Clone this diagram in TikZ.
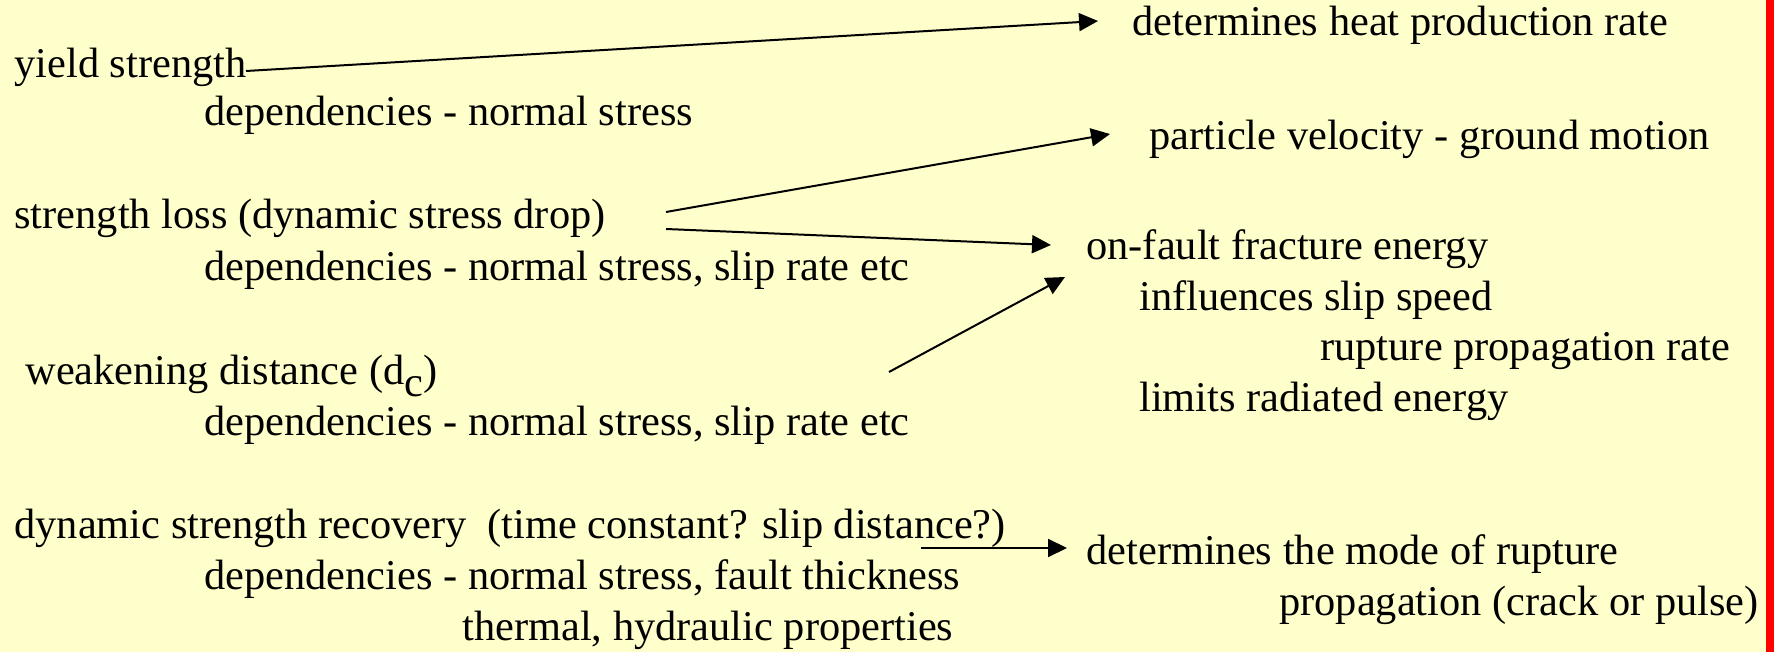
\documentclass[tikz,border=0pt]{standalone}
\usepackage{fontspec}
\setmainfont{Liberation Serif}
\usetikzlibrary{arrows.meta}
\definecolor{bgyellow}{HTML}{FFFFCC}
\begin{document}
\begin{tikzpicture}[x=0.5pt,y=-0.5pt,
  lbl/.style={anchor=base west,inner sep=0pt,font=\fontsize{21.2}{25}\selectfont},
  conn/.style={line width=1pt,-{Triangle[length=9.5pt,width=9pt]}}]
\useasboundingbox (0,0) rectangle (1781,652);
\fill[white] (0,0) rectangle (1781,652);
\fill[bgyellow] (0,0) rectangle (1767,652);
\fill[red] (1766,0) rectangle (1774,652);
% left column
\node[lbl] (yield) at (14,78) {yield strength};
\node[lbl] (dep1) at (204,126) {dependencies - normal stress};
\node[lbl] (loss) at (14,228) {strength loss (dynamic stress drop)};
\node[lbl] (dep2) at (204,280) {dependencies - normal stress, slip rate etc};
\node[lbl] (weak) at (25,384) {weakening distance (d\raisebox{-0.3em}{c})};
\node[lbl] (dep3) at (204,435) {dependencies - normal stress, slip rate etc};
\node[lbl] (recov) at (14,538) {dynamic strength recovery\ \ (time constant? slip distance?)};
\node[lbl] (dep4) at (204,589) {dependencies - normal stress, fault thickness};
\node[lbl] (therm) at (462,640) {thermal, hydraulic properties};
% right column
\node[lbl] (heat) at (1132,36) {determines heat production rate};
\node[lbl] (part) at (1149,150) {particle velocity - ground motion};
\node[lbl] (frac) at (1086,259) {on-fault fracture energy};
\node[lbl] (infl) at (1139,310) {influences slip speed};
\node[lbl] (rupt) at (1320,360) {rupture propagation rate};
\node[lbl] (lim) at (1139,411) {limits radiated energy};
\node[lbl] (mode) at (1086,564) {determines the mode of rupture};
\node[lbl] (prop) at (1279,615) {propagation (crack or pulse)};
% connector ends
\coordinate (a1s) at (246,71);  \coordinate (a1e) at (1098,21);
\coordinate (a2s) at (666,212); \coordinate (a2e) at (1110,134);
\coordinate (a3s) at (666,229); \coordinate (a3e) at (1051,245);
\coordinate (a4s) at (889,372); \coordinate (a4e) at (1065,277);
\coordinate (a5s) at (921,548); \coordinate (a5e) at (1067,548);
\draw[conn] (a1s) -- (a1e);
\draw[conn] (a2s) -- (a2e);
\draw[conn] (a3s) -- (a3e);
\draw[conn] (a4s) -- (a4e);
\draw[conn] (a5s) -- (a5e);
\end{tikzpicture}
\end{document}
